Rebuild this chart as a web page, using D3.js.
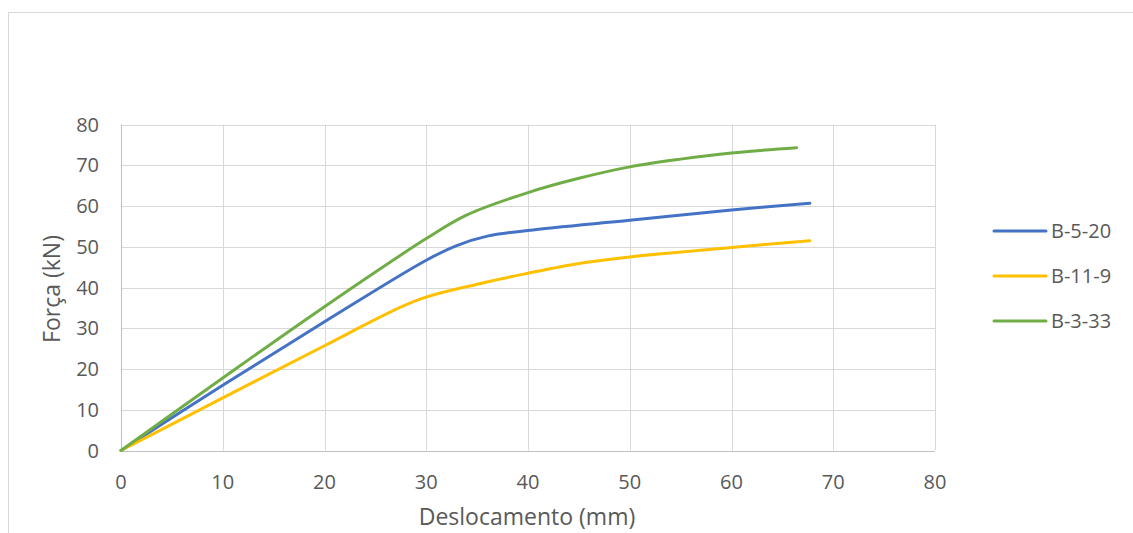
<!DOCTYPE html>
<html><head><meta charset="utf-8">
<script src="https://cdn.jsdelivr.net/npm/d3@7"></script>
<style>body{margin:0;background:#fff}svg{display:block}text{font-family:"Open Sans",Lato,sans-serif;fill:#595959}</style>
</head><body><svg id="c" width="1133" height="533"></svg>
<script>
const seriesNames = ["B-5-20", "B-11-9", "B-3-33"];
const seriesColors = ["#4472C4", "#FFC000", "#70AD47"];
const b520 = [[0,0],[10,16],[20,31.6],[30,46.7],[33,50.3],[36,52.6],[40,54],[50,56.5],[60,59],[67.7,60.7]];
const b119 = [[0,0],[10,12.9],[20,25.7],[29,36.8],[35,40.8],[40,43.5],[45,45.9],[50,47.5],[60,49.8],[67.7,51.5]];
const b333 = [[0,0],[10,17.8],[20,35.3],[30,52],[34,57.8],[40,63.3],[45,66.8],[50,69.6],[55,71.5],[60,73],[66.4,74.3]];
const xTicks = [0,10,20,30,40,50,60,70,80];
const yTicks = [0,10,20,30,40,50,60,70,80];
const allSeries = [b520, b119, b333];

const svg = d3.select("#c");
const m = {l:121, r:935, t:124.5, b:450.5};
const x = d3.scaleLinear().domain([0,80]).range([m.l, m.r]);
const y = d3.scaleLinear().domain([0,80]).range([m.b, m.t]);

// chart border
svg.append("rect").attr("x",8.5).attr("y",12.5).attr("width",1140).attr("height",540)
  .attr("fill","none").attr("stroke","#d9d9d9");

// grid
svg.append("g").selectAll("line").data(yTicks).join("line")
  .attr("x1",m.l).attr("x2",m.r).attr("y1",d=>Math.round(y(d))+0.5).attr("y2",d=>Math.round(y(d))+0.5)
  .attr("stroke",d=>d===0?"#bfbfbf":"#d9d9d9").attr("stroke-width",1);
svg.append("g").selectAll("line").data(xTicks).join("line")
  .attr("y1",m.t).attr("y2",m.b).attr("x1",d=>Math.round(x(d))+0.5).attr("x2",d=>Math.round(x(d))+0.5)
  .attr("stroke",d=>d===0?"#bfbfbf":"#d9d9d9").attr("stroke-width",1);

// tick labels
svg.append("g").selectAll("text").data(yTicks).join("text")
  .attr("x",99).attr("y",d=>y(d)).attr("dy","0.35em").attr("text-anchor","end")
  .attr("font-size",20).text(d=>d);
svg.append("g").selectAll("text").data(xTicks).join("text")
  .attr("x",d=>x(d)).attr("y",482).attr("dy","0.35em").attr("text-anchor","middle")
  .attr("font-size",20).text(d=>d);

// axis titles
svg.append("text").attr("transform","translate(52,289) rotate(-90)").attr("text-anchor","middle")
  .attr("dy","0.35em").attr("font-size",23).text("Força (kN)");
svg.append("text").attr("x",527).attr("y",517).attr("text-anchor","middle")
  .attr("dy","0.35em").attr("font-size",23).text("Deslocamento (mm)");

// lines
const line = d3.line().x(d=>x(d[0])).y(d=>y(d[1])).curve(d3.curveCatmullRom.alpha(0.5));
allSeries.forEach((s,i)=>{
  svg.append("path").datum(s).attr("d",line).attr("fill","none")
    .attr("stroke",seriesColors[i]).attr("stroke-width",3).attr("stroke-linecap","round").attr("stroke-linejoin","round");
});

// legend
const lg = svg.append("g");
seriesNames.forEach((n,i)=>{
  const yy = 231 + i*45;
  lg.append("line").attr("x1",994).attr("x2",1046).attr("y1",yy).attr("y2",yy)
    .attr("stroke",seriesColors[i]).attr("stroke-width",3).attr("stroke-linecap","round");
  lg.append("text").attr("x",1051).attr("y",yy).attr("dy","0.35em").attr("font-size",20).text(n);
});
</script></body></html>
